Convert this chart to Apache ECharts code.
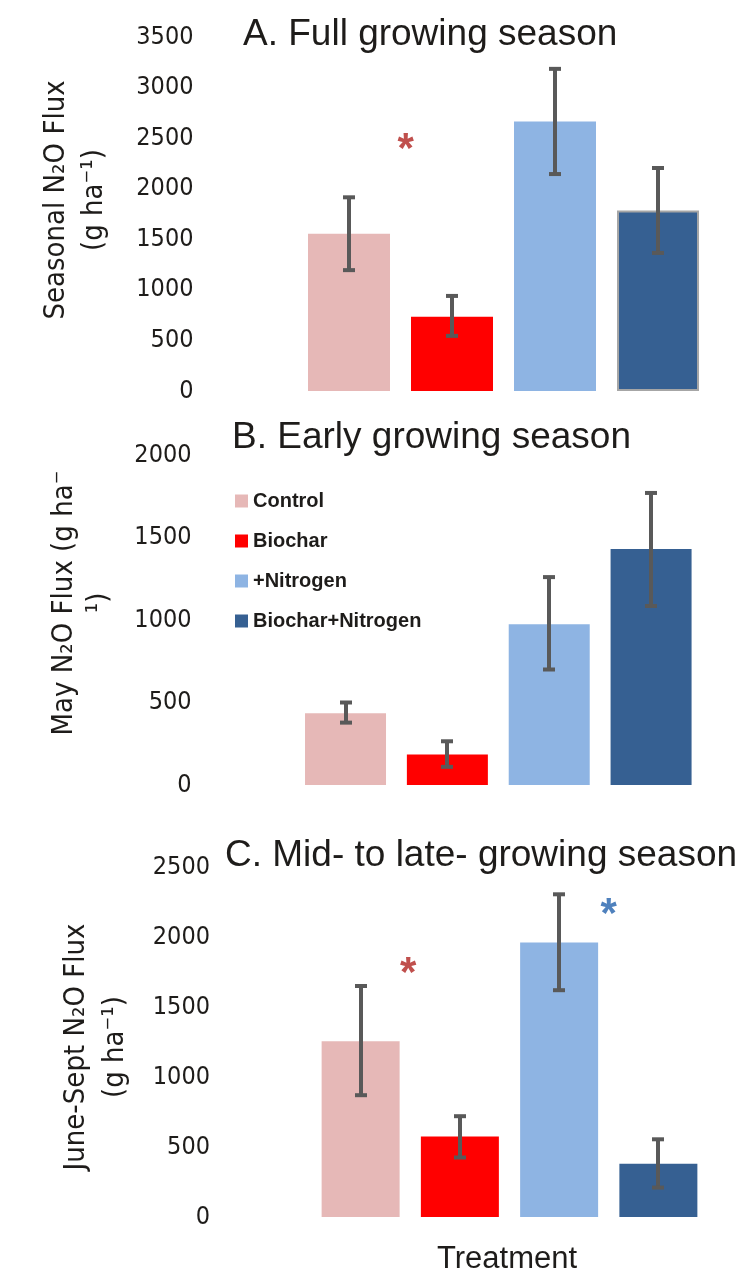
<!DOCTYPE html>
<html>
<head>
<meta charset="utf-8">
<script src="https://cdn.jsdelivr.net/npm/echarts@6/dist/echarts.min.js"></script>
<style>
html,body{margin:0;padding:0;background:#fff;}
#chart{width:743px;height:1274px;}
</style>
</head>
<body>
<div id="chart"></div>
<script>
// ---- data ----
const categories = ['Control', 'Biochar', '+Nitrogen', 'Biochar+Nitrogen'];

const fullMeans = [1555, 735, 2665, 1785];
const fullLow   = [1195, 545, 2145, 1365];
const fullHigh  = [1915, 940, 3185, 2205];

const mayMeans = [435, 185, 975, 1430];
const mayLow   = [378, 110, 700, 1085];
const mayHigh  = [500, 265, 1260, 1770];

const lateMeans = [1255, 575, 1960, 380];
const lateLow   = [870, 425, 1620, 210];
const lateHigh  = [1650, 720, 2305, 555];

const yMaxes = [3500, 2000, 2500];
const yStep = 500;

const panelTitles = ['A. Full growing season', 'B. Early growing season', 'C. Mid- to late- growing season'];
const yNames = [
  'Seasonal N\u2082O Flux\n(g ha\u207B\u00B9)',
  'May N\u2082O Flux (g ha\u207B\n\u00B9)',
  'June-Sept N\u2082O Flux\n(g ha\u207B\u00B9)'
];
const xName = 'Treatment';

// significance asterisks: [category position (between bars), value, group]
const sigA = [[0.55, 2470, 'biochar']];
const sigB = [];
const sigC = [[0.48, 1795, 'biochar'], [2.5, 2220, 'nitrogen']];

// ---- styles / layout ----
const barColors = ['#E6B8B7', '#FF0000', '#8EB4E3', '#366092'];
const sigColors = { biochar: '#C0504D', nitrogen: '#4F81BD' };
const errColor = '#595959';
const textColor = '#1E1C1A';
const tickFont = "'DejaVu Sans Condensed', 'DejaVu Sans', sans-serif";
const titleFont = "'Liberation Sans', Arial, sans-serif";

const grids = [
  { left: 297.5, top: 37,  width: 412,   height: 354 },
  { left: 294.6, top: 455, width: 407.4, height: 330 },
  { left: 311,   top: 867, width: 397,   height: 350 }
];
const barWidths = [82, 81, 78];
const labelMargins = [104, 103, 101];
const titlePos = [{ left: 243, top: 16 }, { left: 232, top: 419 }, { left: 225, top: 837 }];
const yNamePos = [{ x: 75, y: 200, lh: 38 }, { x: 82, y: 603, lh: 35 }, { x: 96, y: 1047, lh: 39 }];

const panels = [
  { means: fullMeans, low: fullLow, high: fullHigh, sig: sigA },
  { means: mayMeans, low: mayLow, high: mayHigh, sig: sigB },
  { means: lateMeans, low: lateLow, high: lateHigh, sig: sigC }
];

const xAxes = [], yAxes = [], series = [];
panels.forEach((p, pi) => {
  xAxes.push({
    type: 'category', gridIndex: pi, data: categories,
    axisLine: { show: false }, axisTick: { show: false }, axisLabel: { show: false }
  });
  yAxes.push({
    type: 'value', gridIndex: pi, min: 0, max: yMaxes[pi], interval: yStep,
    axisLine: { show: false }, axisTick: { show: false }, splitLine: { show: false },
    axisLabel: {
      margin: labelMargins[pi], fontSize: 25, color: textColor, fontFamily: tickFont,
      formatter: v => String(v)
    }
  });
  categories.forEach((c, ci) => {
    const item = {
      type: 'bar', name: c, xAxisIndex: pi, yAxisIndex: pi,
      barWidth: barWidths[pi], barGap: '-100%',
      itemStyle: { color: barColors[ci] },
      data: p.means.map((v, i) => (i === ci ? v : '-')),
      silent: true
    };
    if (pi === 0 && ci === 3) {
      item.itemStyle.borderColor = '#A6A6A6';
      item.itemStyle.borderWidth = 2;
    }
    series.push(item);
  });
  series.push({
    type: 'custom', xAxisIndex: pi, yAxisIndex: pi, silent: true, z: 5,
    data: p.means.map((v, i) => [i, p.low[i], p.high[i]]),
    renderItem: function (params, api) {
      const lo = api.coord([api.value(0), api.value(1)]);
      const hi = api.coord([api.value(0), api.value(2)]);
      const x = Math.round(lo[0]);
      const st = { stroke: errColor, lineWidth: 4 };
      return {
        type: 'group',
        children: [
          { type: 'line', shape: { x1: x, y1: lo[1], x2: x, y2: hi[1] }, style: st },
          { type: 'line', shape: { x1: x - 6, y1: lo[1], x2: x + 6, y2: lo[1] }, style: st },
          { type: 'line', shape: { x1: x - 6, y1: hi[1], x2: x + 6, y2: hi[1] }, style: st }
        ]
      };
    }
  });
  if (p.sig.length) {
    series.push({
      type: 'custom', xAxisIndex: pi, yAxisIndex: pi, silent: true, z: 6,
      data: p.sig.map(s => [s[0], s[1]]),
      renderItem: function (params, api) {
        const pos = api.value(0), v = api.value(1);
        const i = Math.floor(pos), f = pos - i;
        const a = api.coord([i, v]), b = api.coord([i + 1, v]);
        const grp = p.sig[params.dataIndex][2];
        return {
          type: 'text',
          x: a[0] + (b[0] - a[0]) * f, y: a[1] + 9,
          style: {
            text: '*', fill: sigColors[grp], font: 'bold 42px ' + titleFont,
            align: 'center', verticalAlign: 'middle'
          }
        };
      }
    });
  }
});

const option = {
  backgroundColor: '#ffffff',
  animation: false,
  title: panelTitles.map((t, i) => ({
    text: t, left: titlePos[i].left, top: titlePos[i].top, padding: 0,
    textStyle: { fontSize: 37, fontWeight: 'normal', color: textColor, fontFamily: titleFont }
  })),
  legend: {
    data: categories, orient: 'vertical', left: 235, top: 489,
    icon: 'rect', itemWidth: 13, itemHeight: 13, itemGap: 16, padding: 0,
    selectedMode: false,
    itemStyle: { borderWidth: 0 },
    textStyle: {
      fontSize: 20, fontWeight: 'bold', color: textColor, lineHeight: 24,
      fontFamily: titleFont
    }
  },
  grid: grids.map(g => Object.assign({ containLabel: false }, g)),
  xAxis: xAxes,
  yAxis: yAxes,
  series: series,
  graphic: yNames.map((n, i) => ({
    type: 'text', x: yNamePos[i].x, y: yNamePos[i].y, rotation: Math.PI / 2,
    style: {
      text: n, fill: textColor, font: "29px " + tickFont,
      align: 'center', verticalAlign: 'middle', lineHeight: yNamePos[i].lh
    }
  })).concat([{
    type: 'text', x: 507, y: 1259,
    style: {
      text: xName, fill: textColor, font: '31px ' + titleFont,
      align: 'center', verticalAlign: 'middle'
    }
  }])
};

const chart = echarts.init(document.getElementById('chart'), null, { renderer: 'canvas' });
chart.setOption(option);
</script>
</body>
</html>
